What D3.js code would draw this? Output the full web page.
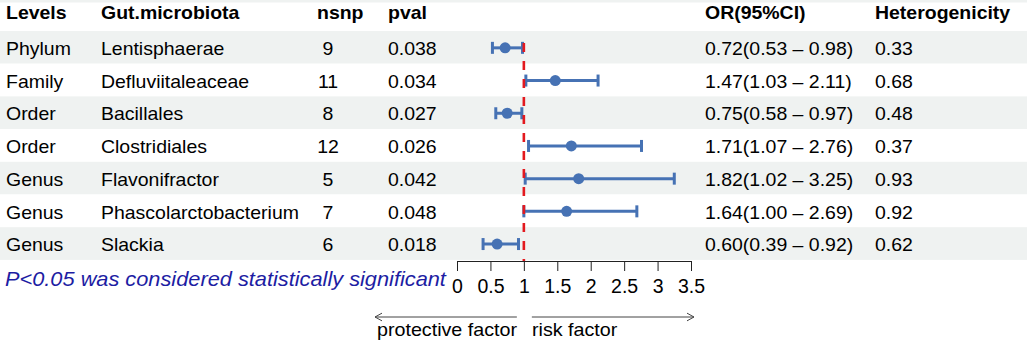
<!DOCTYPE html>
<html>
<head>
<meta charset="utf-8">
<script src="https://cdn.jsdelivr.net/npm/d3@7"></script>
<style>
  body { margin: 0; background: #fff; }
  text { font-family: "Liberation Sans", Arial, Helvetica, sans-serif; }
</style>
</head>
<body>
<script>

// table data
var levels = ["Phylum", "Family", "Order", "Order", "Genus", "Genus", "Genus"];
var taxa = ["Lentisphaerae", "Defluviitaleaceae", "Bacillales", "Clostridiales",
            "Flavonifractor", "Phascolarctobacterium", "Slackia"];
var nsnp = [9, 11, 8, 12, 5, 7, 6];
var pval = ["0.038", "0.034", "0.027", "0.026", "0.042", "0.048", "0.018"];
var orVal = [0.72, 1.47, 0.75, 1.71, 1.82, 1.64, 0.60];
var orLow = [0.53, 1.03, 0.58, 1.07, 1.02, 1.00, 0.39];
var orHigh = [0.98, 2.11, 0.97, 2.76, 3.25, 2.69, 0.92];
var hetero = ["0.33", "0.68", "0.48", "0.37", "0.93", "0.92", "0.62"];

var headers = ["Levels", "Gut.microbiota", "nsnp", "pval", "OR(95%CI)", "Heterogenicity"];
var xTicks = [0, 0.5, 1, 1.5, 2, 2.5, 3, 3.5];

var W = 1031, H = 341;
var rowTop = 31, rowH = 32.7;
var bandFill = "#eff2f1";
var blue = "#4672b4";

var fs = 17.7, sx = 1.1;   // text looks a bit stretched horizontally

var svg = d3.select("body").append("svg")
  .attr("width", W).attr("height", H);

var x = d3.scaleLinear().domain([0, 3.5]).range([457, 691]);

var fmt = d3.format(".2f");
var ciText = function(i){
  return fmt(orVal[i]) + "(" + fmt(orLow[i]) + " \u2013 " + fmt(orHigh[i]) + ")";
};

function txt(g, px, py, s, o){
  o = o || {};
  return g.append("text")
    .attr("transform", "translate(" + px + "," + py + ") scale(" + (o.sx || sx) + ",1)")
    .attr("text-anchor", o.anchor || "start")
    .style("font-size", (o.size || fs) + "px")
    .style("font-weight", o.bold ? "bold" : "normal")
    .style("font-style", o.italic ? "italic" : "normal")
    .attr("fill", o.color || "#000")
    .text(s);
}

// background bands
svg.append("rect").attr("x", 0).attr("y", 0).attr("width", 1027).attr("height", 2.5)
  .attr("fill", bandFill);

svg.append("g").selectAll("rect")
  .data(taxa)
  .enter().append("rect")
  .attr("x", 0)
  .attr("y", function(d, i){ return rowTop + i * rowH; })
  .attr("width", 1027)
  .attr("height", rowH)
  .attr("fill", function(d, i){ return i % 2 === 0 ? bandFill : "#fff"; });

// header
var head = svg.append("g");
var headX = [6, 101, 317, 388, 705, 875];
headers.forEach(function(h, i){
  txt(head, headX[i], 18.5, h, {bold: true});
});

// rows
var body = svg.append("g");
taxa.forEach(function(t, i){
  var by = rowTop + i * rowH + 24;
  txt(body, 6, by, levels[i]);
  txt(body, 101, by, t);
  txt(body, 328, by, nsnp[i], {anchor: "middle"});
  txt(body, 388, by, pval[i]);
  txt(body, 705, by, ciText(i));
  txt(body, 875, by, hetero[i]);
});

// forest marks
var forest = svg.append("g");
var cy = function(i){ return rowTop + i * rowH + rowH / 2 + 0.5; };

forest.selectAll("line.ci")
  .data(orVal).enter().append("line")
  .attr("class", "ci")
  .attr("x1", function(d, i){ return x(orLow[i]); })
  .attr("x2", function(d, i){ return x(orHigh[i]); })
  .attr("y1", function(d, i){ return cy(i); })
  .attr("y2", function(d, i){ return cy(i); })
  .attr("stroke", blue).attr("stroke-width", 3);

[orLow, orHigh].forEach(function(arr){
  forest.append("g").selectAll("line")
    .data(arr).enter().append("line")
    .attr("x1", function(d){ return x(d); })
    .attr("x2", function(d){ return x(d); })
    .attr("y1", function(d, i){ return cy(i) - 6; })
    .attr("y2", function(d, i){ return cy(i) + 6; })
    .attr("stroke", blue).attr("stroke-width", 3);
});

forest.selectAll("circle")
  .data(orVal).enter().append("circle")
  .attr("cx", function(d){ return x(d); })
  .attr("cy", function(d, i){ return cy(i); })
  .attr("r", 5.5)
  .attr("fill", blue);

// reference line at OR = 1
svg.append("line")
  .attr("x1", x(1)).attr("x2", x(1))
  .attr("y1", 43).attr("y2", 261)
  .attr("stroke", "#e3191f")
  .attr("stroke-width", 2.6)
  .attr("stroke-dasharray", "9,9");

// axis
var axisY = 261;
var axis = svg.append("g")
  .attr("transform", "translate(0," + axisY + ")")
  .call(d3.axisBottom(x).tickValues(xTicks).tickSize(10).tickSizeOuter(0)
    .tickFormat(d3.format("")));

axis.select(".domain").attr("stroke", "#222").attr("stroke-width", 1);
axis.selectAll(".tick line").attr("stroke", "#222").attr("stroke-width", 1);
axis.selectAll(".tick text")
  .attr("y", 32).attr("dy", null)
  .attr("fill", "#000")
  .style("font-family", "'Liberation Sans', Arial, sans-serif")
  .style("font-size", "19.5px");

// footnote
txt(svg, 5, 286, "P<0.05 was considered statistically significant",
  {italic: true, color: "#1d1da3", size: 19.8});

// direction arrows
var arrowY = 317, ah = 7;
var arrows = [
  {from: x(1) - 7, to: x(0) - 82},
  {from: x(1) + 8, to: x(3.5) + 3}
];
arrows.forEach(function(a){
  var dir = a.to < a.from ? 1 : -1;
  svg.append("path")
    .attr("d", "M" + a.from + "," + arrowY + "H" + a.to +
      "M" + (a.to + dir * ah) + "," + (arrowY - ah * 0.55) + "L" + a.to + "," + arrowY +
      "L" + (a.to + dir * ah) + "," + (arrowY + ah * 0.55))
    .attr("fill", "none")
    .attr("stroke", "#444")
    .attr("stroke-width", 1);
});

txt(svg, 377, 336, "protective factor", {size: 17.9});
txt(svg, 532, 336, "risk factor", {size: 17.9});

</script>
</body>
</html>
